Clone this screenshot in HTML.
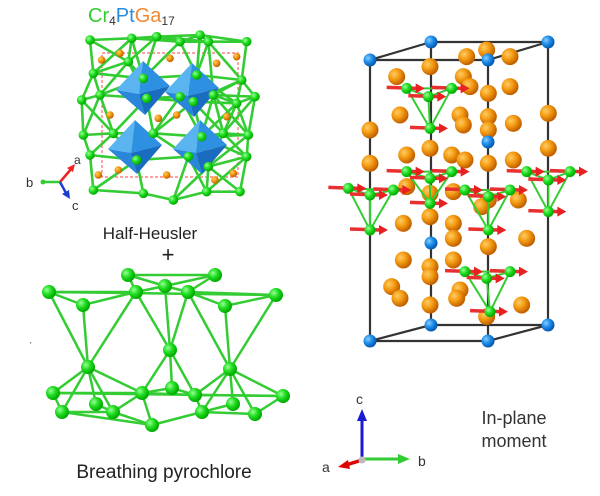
<!DOCTYPE html>
<html><head><meta charset="utf-8"><style>
html,body{margin:0;padding:0;background:#fff;}
svg{display:block;}
text{font-family:"Liberation Sans",Arial,sans-serif;}
</style></head><body>
<svg id="s" width="600" height="496" viewBox="0 0 600 496" xmlns="http://www.w3.org/2000/svg">
<defs>
<radialGradient id="gg" cx="35%" cy="35%" r="65%"><stop offset="0" stop-color="#9f9"/><stop offset="0.5" stop-color="#2d2"/><stop offset="1" stop-color="#0a0"/></radialGradient>
<radialGradient id="go" cx="35%" cy="35%" r="65%"><stop offset="0" stop-color="#fc6"/><stop offset="0.5" stop-color="#f39a10"/><stop offset="1" stop-color="#c06000"/></radialGradient>
<radialGradient id="gb" cx="35%" cy="35%" r="65%"><stop offset="0" stop-color="#8cf"/><stop offset="0.5" stop-color="#1e8ee8"/><stop offset="1" stop-color="#0658b0"/></radialGradient>
</defs>
<text x="88" y="22" font-size="20"><tspan fill="#33cc33">Cr</tspan><tspan fill="#333" font-size="12" dy="3">4</tspan><tspan fill="#2a8ee0" dy="-3">Pt</tspan><tspan fill="#f08a30">Ga</tspan><tspan fill="#333" font-size="12" dy="3">17</tspan></text>
<rect x="102" y="53" width="136" height="124" fill="none" stroke="#f66" stroke-dasharray="3,2" stroke-width="1.2"/>
<g id="tl"></g>
<g id="oct"></g>
<g id="tl2"></g>
<line x1="60" y1="182" x2="72" y2="168" stroke="#e22" stroke-width="2.5"/><polygon points="75,164 67,168 73,172" fill="#e22"/>
<line x1="60" y1="182" x2="44" y2="182" stroke="#3c3" stroke-width="2.5"/><circle cx="43" cy="182" r="2.5" fill="#3c3"/>
<line x1="60" y1="182" x2="66" y2="193" stroke="#1a3fd0" stroke-width="2.5"/><polygon points="70,199 62,194 69,190" fill="#1a3fd0"/>
<text x="74" y="164" font-size="12" fill="#333">a</text>
<text x="26" y="187" font-size="13" fill="#333">b</text>
<text x="72" y="210" font-size="13" fill="#333">c</text>
<text x="150" y="239" font-size="17" fill="#222" text-anchor="middle">Half-Heusler</text>
<text x="168" y="262" font-size="22" fill="#222" text-anchor="middle">+</text>
<g id="py"></g>
<text x="30" y="348" font-size="8" fill="#333">'</text>
<text x="164" y="478" font-size="19" fill="#222" text-anchor="middle">Breathing pyrochlore</text>
<g id="cr"></g>
<line x1="362" y1="459" x2="362" y2="418" stroke="#1a1ad0" stroke-width="3"/><polygon points="362,409 357,421 367,421" fill="#1a1ad0"/>
<line x1="362" y1="459" x2="400" y2="459" stroke="#3c3" stroke-width="3"/><polygon points="410,459 398,454 398,464" fill="#3c3"/>
<line x1="362" y1="460" x2="346" y2="465" stroke="#d00" stroke-width="3.5"/><polygon points="338,467 348,460 350,469" fill="#d00"/>
<circle cx="362" cy="460" r="3.5" fill="#bbb"/>
<text x="356" y="404" font-size="14" fill="#333">c</text>
<text x="418" y="466" font-size="14" fill="#333">b</text>
<text x="322" y="472" font-size="14" fill="#333">a</text>
<text x="514" y="424" font-size="18" fill="#333" text-anchor="middle">In-plane</text>
<text x="514" y="447" font-size="18" fill="#333" text-anchor="middle">moment</text>
</svg>
<script>
var NS="http://www.w3.org/2000/svg";
function el(p,t,a){var e=document.createElementNS(NS,t);for(var k in a)e.setAttribute(k,a[k]);document.getElementById(p).appendChild(e);return e;}
function sph(p,x,y,r,g){el(p,"circle",{cx:x,cy:y,r:r,fill:"url(#"+g+")"});}
function line(p,a,b,c,w){el(p,"line",{x1:a[0],y1:a[1],x2:b[0],y2:b[1],stroke:c,"stroke-width":w});}
var tn=[[270,120],[395,115],[470,110],[540,125],[600,105],[625,125],[740,125],[280,220],[385,185],[430,235],[590,225],[725,240],[245,300],[300,285],[440,295],[540,290],[580,305],[640,285],[710,310],[765,290],[250,405],[340,400],[460,400],[605,410],[670,400],[745,405],[270,465],[410,480],[565,470],[625,500],[740,470],[280,570],[430,580],[520,600],[620,575],[720,575]].map(function(p){return[p[0]/3,p[1]/3];});
for(var i=0;i<tn.length;i++)for(var j=i+1;j<tn.length;j++){var dx=tn[i][0]-tn[j][0],dy=tn[i][1]-tn[j][1];var d=Math.sqrt(dx*dx+dy*dy);if(d<54)line("tl",tn[i],tn[j],"#3c3",2.6);}
[[305,180],[360,160],[510,175],[650,190],[710,170],[330,345],[475,355],[530,345],[680,350],[295,525],[355,510],[500,525],[645,540],[700,520]].forEach(function(p){sph("tl",p[0]/3,p[1]/3,3.8,"go");});
[[143,88],[192,90],[135,147],[200,147]].forEach(function(c){var x=c[0],y=c[1],h=27,w=27;
el("oct","polygon",{points:(x)+","+(y-h)+" "+(x-w)+","+(y+2)+" "+(x-4)+","+(y+6),fill:"#5ab4f0"});
el("oct","polygon",{points:(x)+","+(y-h)+" "+(x+w)+","+(y-2)+" "+(x-4)+","+(y+6),fill:"#2e90e0"});
el("oct","polygon",{points:(x-w)+","+(y+2)+" "+(x-4)+","+(y+6)+" "+(x+2)+","+(y+h),fill:"#2a86d8"});
el("oct","polygon",{points:(x+w)+","+(y-2)+" "+(x-4)+","+(y+6)+" "+(x+2)+","+(y+h),fill:"#1a6cc0"});});
tn.forEach(function(p){sph("tl2",p[0],p[1],4.8,"gg");});
var P={A:[128,275],B:[215,275],C:[49,292],D:[136,292],E:[165,286],F:[188,292],G:[276,295],H:[83,305],I:[225,306],J:[88,367],K:[170,350],L:[230,369],M:[53,393],N:[142,393],O:[172,388],Q:[195,395],R:[283,396],S:[62,412],T:[113,412],U:[202,412],V:[255,414],W:[152,425],X:[96,404],Y:[233,404]};
["AB","AE","BE","AD","BF","CD","CH","DH","DE","EF","FG","FI","GI","CG","CJ","HJ","DJ","DK","FK","EK","GL","IL","FL","JM","JN","JX","JS","JT","KN","KQ","KO","LR","LQ","LY","LV","LU","MN","MS","NT","NW","NQ","OQ","ON","QR","QU","RV","ST","TW","UW","UV","XT","YU","MR","SW"].forEach(function(k){line("py",P[k[0]],P[k[1]],"#3c3",2.5);});
for(var k in P)sph("py",P[k][0],P[k][1],7,"gg");
var k2="#333";
[[[370,60],[431,42]],[[431,42],[548,42]],[[548,42],[488,60]],[[488,60],[370,60]],[[370,341],[431,325]],[[431,325],[548,325]],[[548,325],[488,341]],[[488,341],[370,341]],[[370,60],[370,341]],[[431,42],[431,325]],[[548,42],[548,325]],[[488,60],[488,341]]].forEach(function(s){line("cr",s[0],s[1],k2,2.2);});
[[290,230],[390,200],[500,170],[560,150],[630,170],[490,230],[510,260],[565,280],[630,260],[300,345],[480,345],[490,375],[565,350],[640,370],[210,390],[565,390],[390,445],[320,465],[455,465],[495,480],[565,490],[640,480],[210,490],[745,340],[745,445],[320,560],[460,575],[390,580],[565,600],[655,600],[310,670],[460,670],[390,650],[460,715],[565,740],[680,715],[310,780],[460,780],[390,800],[390,830],[275,860],[300,895],[480,870],[470,895],[390,915],[560,950],[665,915],[545,620]].forEach(function(p){sph("cr",300+p[0]/3,p[1]/3,8.5,"go");});
[[370,60],[431,42],[548,42],[488,60],[370,341],[431,325],[548,325],[488,341],[488,142],[431,243]].forEach(function(p){sph("cr",p[0],p[1],6.5,"gb");});
var grp=[[[320,265],[385,290],[455,265],[390,385]],[[320,515],[390,535],[455,515],[390,610]],[[145,565],[210,585],[280,570],[210,690]],[[495,570],[565,590],[630,570],[565,690]],[[680,515],[745,540],[810,515],[745,635]],[[495,815],[560,835],[630,815],[570,935]]];
grp.forEach(function(g){var n=g.map(function(p){return[300+p[0]/3,p[1]/3];});
line("cr",n[0],n[1],"#3c3",2);line("cr",n[1],n[2],"#3c3",2);line("cr",n[0],n[2],"#3c3",2);line("cr",n[0],n[3],"#3c3",2);line("cr",n[1],n[3],"#3c3",2);line("cr",n[2],n[3],"#3c3",2);
n.forEach(function(p){var x=p[0],y=p[1];el("cr","line",{x1:x-20,y1:y-1,x2:x+10,y2:y,stroke:"#e83030","stroke-width":3.5});el("cr","polygon",{points:(x+18)+","+y+" "+(x+9)+","+(y-5)+" "+(x+9)+","+(y+5),fill:"#e82020"});sph("cr",x,y,5.5,"gg");});});
</script>
</body></html>
